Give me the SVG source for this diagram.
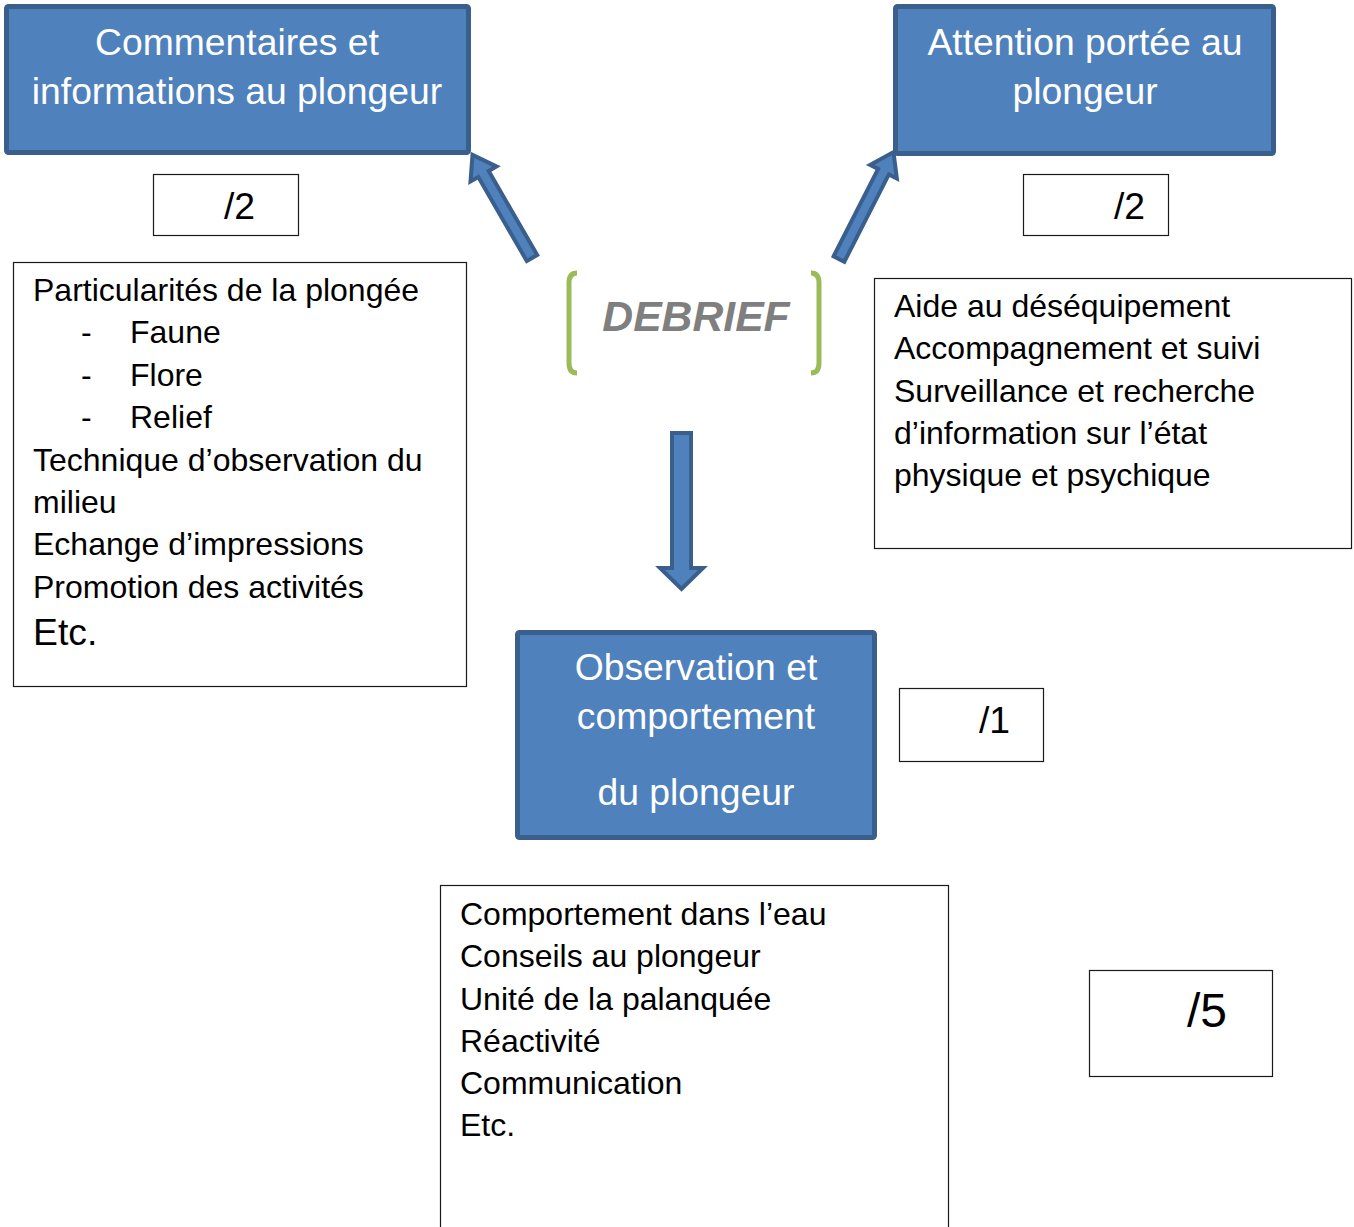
<svg xmlns="http://www.w3.org/2000/svg" width="1354" height="1227" viewBox="0 0 1354 1227">
<style>
.title{fill:#4F81BD;stroke:#3A5F8D;stroke-width:5}
.tt{font-family:"Liberation Sans",Arial,sans-serif;font-size:37.3px;fill:#fff;text-anchor:middle}
.box{fill:#fff;stroke:#1a1a1a;stroke-width:1.2}
.t{font-family:"Liberation Sans",Arial,sans-serif;font-size:32px;fill:#000}
.score{font-family:"Liberation Sans",Arial,sans-serif;font-size:37.3px;fill:#000}
.arrow{fill:#4F81BD;stroke:#3A5F8D;stroke-width:4;stroke-linejoin:miter}
.br{fill:none;stroke:#9BBB59;stroke-width:5;stroke-linecap:butt}
</style>
<rect width="1354" height="1227" fill="#fff"/>

<g id="connectors">
  <polygon class="arrow" transform="translate(532,258) rotate(-30)" points="-6,0 -6,-97 -15,-97 0,-119 15,-97 6,-97 6,0"/>
  <polygon class="arrow" transform="translate(839,259) rotate(27)" points="-6,0 -6,-98 -15,-98 0,-120 15,-98 6,-98 6,0"/>
  <polygon class="arrow" points="672,433 691,433 691,568 703,568 681.5,589 660,568 672,568"/>
</g>

<g id="debrief">
  <path class="br" d="M577,273 Q569,273 569,283 L569,363 Q569,373 577,373"/>
  <path class="br" d="M811,273 Q819,273 819,283 L819,363 Q819,373 811,373"/>
  <text x="696" y="331" text-anchor="middle" style="font-family:'Liberation Sans',Arial,sans-serif;font-size:42.7px;font-weight:bold;font-style:italic;fill:#7F7F7F">DEBRIEF</text>
</g>

<g id="node-commentaires">
  <rect class="title" x="6.5" y="6.5" width="462" height="146" rx="2"/>
  <text class="tt" x="237" y="55">Commentaires et</text>
  <text class="tt" x="237" y="104">informations au plongeur</text>
</g>

<g id="node-attention">
  <rect class="title" x="895.5" y="6.5" width="378" height="147" rx="2"/>
  <text class="tt" x="1085" y="55">Attention portée au</text>
  <text class="tt" x="1085" y="104">plongeur</text>
</g>

<g id="node-observation">
  <rect class="title" x="517.5" y="632.5" width="357" height="205" rx="2"/>
  <text class="tt" x="696" y="680">Observation et</text>
  <text class="tt" x="696" y="729">comportement</text>
  <text class="tt" x="696" y="805">du plongeur</text>
</g>

<g id="score-left">
  <rect class="box" x="153.5" y="174.5" width="145" height="61"/>
  <text class="score" x="224" y="219">/2</text>
</g>

<g id="score-right">
  <rect class="box" x="1023.5" y="174.5" width="145" height="61"/>
  <text class="score" x="1114" y="219">/2</text>
</g>

<g id="score-obs">
  <rect class="box" x="899.5" y="688.5" width="144" height="73"/>
  <text class="score" x="979" y="733">/1</text>
</g>

<g id="score-bottom">
  <rect class="box" x="1089.5" y="970.5" width="183" height="106"/>
  <text x="1187" y="1027" style="font-family:'Liberation Sans',Arial,sans-serif;font-size:48px;fill:#000">/5</text>
</g>

<g id="list-left">
  <rect class="box" x="13.5" y="262.5" width="453" height="424"/>
  <text class="t" x="33" y="301">Particularités de la plongée</text>
  <text class="t" x="81" y="343">-</text><text class="t" x="130" y="343">Faune</text>
  <text class="t" x="81" y="386">-</text><text class="t" x="130" y="386">Flore</text>
  <text class="t" x="81" y="428">-</text><text class="t" x="130" y="428">Relief</text>
  <text class="t" x="33" y="471">Technique d’observation du</text>
  <text class="t" x="33" y="513">milieu</text>
  <text class="t" x="33" y="555">Echange d’impressions</text>
  <text class="t" x="33" y="598">Promotion des activités</text>
  <text class="t" x="33" y="645" style="font-size:37.3px">Etc.</text>
</g>

<g id="list-right">
  <rect class="box" x="874.5" y="278.5" width="477" height="270"/>
  <text class="t" x="894" y="317">Aide au déséquipement</text>
  <text class="t" x="894" y="359">Accompagnement et suivi</text>
  <text class="t" x="894" y="402">Surveillance et recherche</text>
  <text class="t" x="894" y="444">d’information sur l’état</text>
  <text class="t" x="894" y="486">physique et psychique</text>
</g>

<g id="list-bottom">
  <rect class="box" x="440.5" y="885.5" width="508" height="360"/>
  <text class="t" x="460" y="925">Comportement dans l’eau</text>
  <text class="t" x="460" y="967">Conseils au plongeur</text>
  <text class="t" x="460" y="1010">Unité de la palanquée</text>
  <text class="t" x="460" y="1052">Réactivité</text>
  <text class="t" x="460" y="1094">Communication</text>
  <text class="t" x="460" y="1136">Etc.</text>
</g>
</svg>
